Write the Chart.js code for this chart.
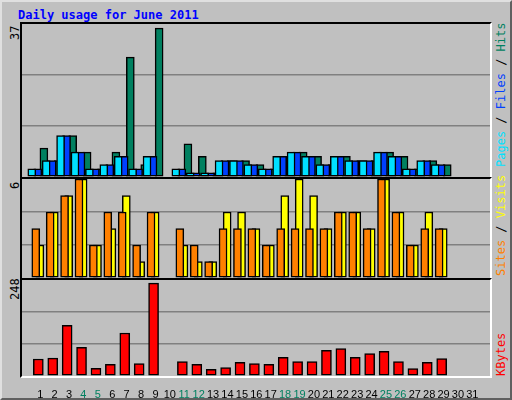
<!DOCTYPE html>
<html><head><meta charset="utf-8">
<script src="https://cdn.jsdelivr.net/npm/chart.js@4"></script>
<style>
html,body{margin:0;padding:0;background:#fff;}
#wrap{position:absolute;left:0;top:0;width:508px;height:396px;background:#c0c0c0;border-left:2px solid #e0e0e0;border-top:2px solid #e0e0e0;border-right:2px solid #606060;border-bottom:2px solid #606060;}
.frame{position:absolute;border-left:2px solid #000;border-top:2px solid #000;border-right:2px solid #fff;border-bottom:2px solid #fff;box-sizing:border-box;}
canvas{position:absolute;}
.txt{position:absolute;font-family:"DejaVu Sans Mono",monospace;font-size:12px;white-space:nowrap;}
.rot{transform-origin:left top;transform:rotate(-90deg);}
</style></head><body>
<div id="wrap"></div>
<div class="txt" style="left:18px;top:8px;color:#0000ff;font-weight:bold;">Daily usage for June 2011</div>
<div class="frame" style="left:20px;top:22px;width:472px;height:157px;"></div>
<div class="frame" style="left:20px;top:177px;width:472px;height:103px;"></div>
<div class="frame" style="left:20px;top:278px;width:472px;height:100px;"></div>
<canvas id="c1" style="left:22px;top:24px;width:468px;height:153px;"></canvas>
<canvas id="c2" style="left:22px;top:179px;width:468px;height:99px;"></canvas>
<canvas id="c3" style="left:22px;top:280px;width:468px;height:118px;"></canvas>
<div class="txt rot" style="left:8px;top:40px;color:#000;">37</div>
<div class="txt rot" style="left:8px;top:189px;color:#000;">6</div>
<div class="txt rot" style="left:8px;top:300px;color:#000;">248</div>
<div class="txt rot" style="left:494px;top:167px;"><span style="color:#00e0ff">Pages</span><span style="color:#000"> / </span><span style="color:#0040ff">Files</span><span style="color:#000"> / </span><span style="color:#008060">Hits</span></div>
<div class="txt rot" style="left:494px;top:276px;"><span style="color:#ff8000">Sites</span><span style="color:#000"> / </span><span style="color:#ffff00">Visits</span></div>
<div class="txt rot" style="left:494px;top:376px;color:#ff0000;">KBytes</div>
<script>
const days = [1,2,3,4,5,6,7,8,9,10,11,12,13,14,15,16,17,18,19,20,21,22,23,24,25,26,27,28,29,30,31];
const weekend = [4,5,11,12,18,19,25,26];
const hits   = [7,4,10,6,2,6,29,3,36,0,8,5,1,4,4,3,2,5,6,5,3,5,4,4,6,5,2,4,3,0,0];
const files  = [2,4,10,6,2,3,5,2,5,0,2,1,1,4,4,3,2,5,6,5,3,5,4,4,6,5,2,4,3,0,0];
const pages  = [2,4,10,6,2,3,5,2,5,0,2,1,1,4,4,3,2,5,6,5,3,5,4,4,6,5,2,4,3,0,0];
const visits = [2,4,5,6,2,3,5,1,4,0,2,1,1,4,4,3,2,5,6,5,3,4,4,3,6,4,2,4,3,0,0];
const sites  = [3,4,5,6,2,4,4,2,4,0,3,2,1,3,3,3,2,3,3,3,3,4,4,3,6,4,2,3,3,0,0];
const kbytes = [44,46,131,74,20,30,111,32,240,0,37,30,17,22,35,32,30,48,37,37,66,71,48,58,64,37,19,35,45,0,0];
const maxTop = 37, maxMid = 6, maxBot = 248;

function pts(arr, off){ return days.map((d,i)=>({x:d+off,y:arr[i]})); }
function ds(arr, off, color, order, thick){
  return {data:pts(arr,off),backgroundColor:color,borderColor:'#000',borderWidth:1.5,
    barThickness:thick,order:order,borderSkipped:false};
}
function opts(max, showX){
  return {responsive:false,animation:false,devicePixelRatio:1,
    layout:{padding:0},
    plugins:{legend:{display:false},tooltip:{enabled:false}},
    scales:{
      x:{type:'linear',min:0.26,max:31.7,display:showX,
        grid:{display:false},border:{display:false},
        afterBuildTicks:s=>{s.ticks=days.map(v=>({value:v}));},
        afterFit:s=>{s.height=showX?22:0;},
        ticks:{autoSkip:false,maxRotation:0,minRotation:0,padding:4,
          font:{family:'Liberation Sans',size:11},
          color:c=>weekend.includes(c.tick.value)?'#008060':'#000',
          callback:v=>String(v)}},
      y:{min:0,max:max,display:true,
        afterBuildTicks:s=>{s.ticks=[0,max/3,2*max/3,max].map(v=>({value:v}));},
        afterFit:s=>{s.width=0;},
        ticks:{display:false},border:{display:false},
        grid:{drawTicks:false,lineWidth:1.5,color:c=>(c.index==1||c.index==2)?'#808080':'rgba(0,0,0,0)'}}
    }};
}
function mk(id,w,h,datasets,max,showX){
  const c=document.getElementById(id); c.width=w; c.height=h;
  new Chart(c,{type:'bar',data:{datasets},options:opts(max,showX)});
}
mk('c1',468,153,[ds(hits,-0.3,'#008060',3,8),ds(files,-0.17,'#0040ff',2,8),ds(pages,-0.03,'#00e0ff',1,8)],maxTop,false);
mk('c2',468,99,[ds(visits,-0.3,'#ffff00',2,8),ds(sites,-0.03,'#ff8000',1,8)],maxMid,false);
mk('c3',468,118,[ds(kbytes,-0.13,'#ff0000',1,10)],maxBot,true);
</script>
</body></html>
